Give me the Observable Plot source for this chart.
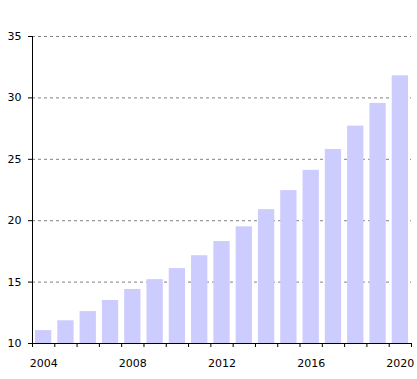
<!DOCTYPE html>
<html>
<head>
<meta charset="utf-8">
<script src="https://cdn.jsdelivr.net/npm/d3@7"></script>
<script src="https://cdn.jsdelivr.net/npm/@observablehq/plot@0.6"></script>
<style>
  html, body { margin: 0; padding: 0; background: #fff; }
  svg { display: block; }
</style>
</head>
<body>
<div id="chart"></div>
<script>
const years = [2004, 2005, 2006, 2007, 2008, 2009, 2010, 2011, 2012, 2013, 2014, 2015, 2016, 2017, 2018, 2019, 2020];
const values = [11.05, 11.85, 12.6, 13.5, 14.4, 15.2, 16.1, 17.15, 18.3, 19.5, 20.9, 22.45, 24.1, 25.8, 27.7, 29.55, 31.8];
const xLabelYears = [2004, 2008, 2012, 2016, 2020];
const yTicks = [10, 15, 20, 25, 30, 35];
const gridTicks = [15, 20, 25, 30, 35];

const data = years.map((year, i) => ({year, value: values[i]}));
const boundaries = d3.range(years[0] - 0.5, years[years.length - 1] + 1, 1);

const chart = Plot.plot({
  width: 417,
  height: 379,
  marginLeft: 32,
  marginRight: 6,
  marginTop: 36,
  marginBottom: 36,
  style: {fontFamily: "DejaVu Sans", fontSize: "11px", color: "#000", background: "#fff"},
  x: {domain: [years[0] - 0.5, years[years.length - 1] + 0.5]},
  y: {domain: [10, 35]},
  marks: [
    Plot.ruleY(gridTicks, {stroke: "#808080", strokeDasharray: "3,3", strokeWidth: 1}),
    Plot.rectY(data, {x1: d => d.year - 0.5, x2: d => d.year + 0.5, y1: 10, y2: "value", fill: "#ccccff", insetLeft: 3, insetRight: 3}),
    Plot.axisY({ticks: yTicks, tickSize: 4, tickPadding: 7, tickFormat: d => d, label: null, stroke: "#000"}),
    Plot.axisX({ticks: boundaries, tickSize: 4, tickFormat: () => "", label: null, stroke: "#000"}),
    Plot.axisX({ticks: xLabelYears, tickSize: 0, tickPadding: 16, tickFormat: d => String(d), label: null}),
    Plot.ruleX([years[0] - 0.5], {y1: 10, y2: 35, stroke: "#000"}),
    Plot.ruleY([10], {stroke: "#000"})
  ]
});
document.getElementById("chart").appendChild(chart);
</script>
</body>
</html>
